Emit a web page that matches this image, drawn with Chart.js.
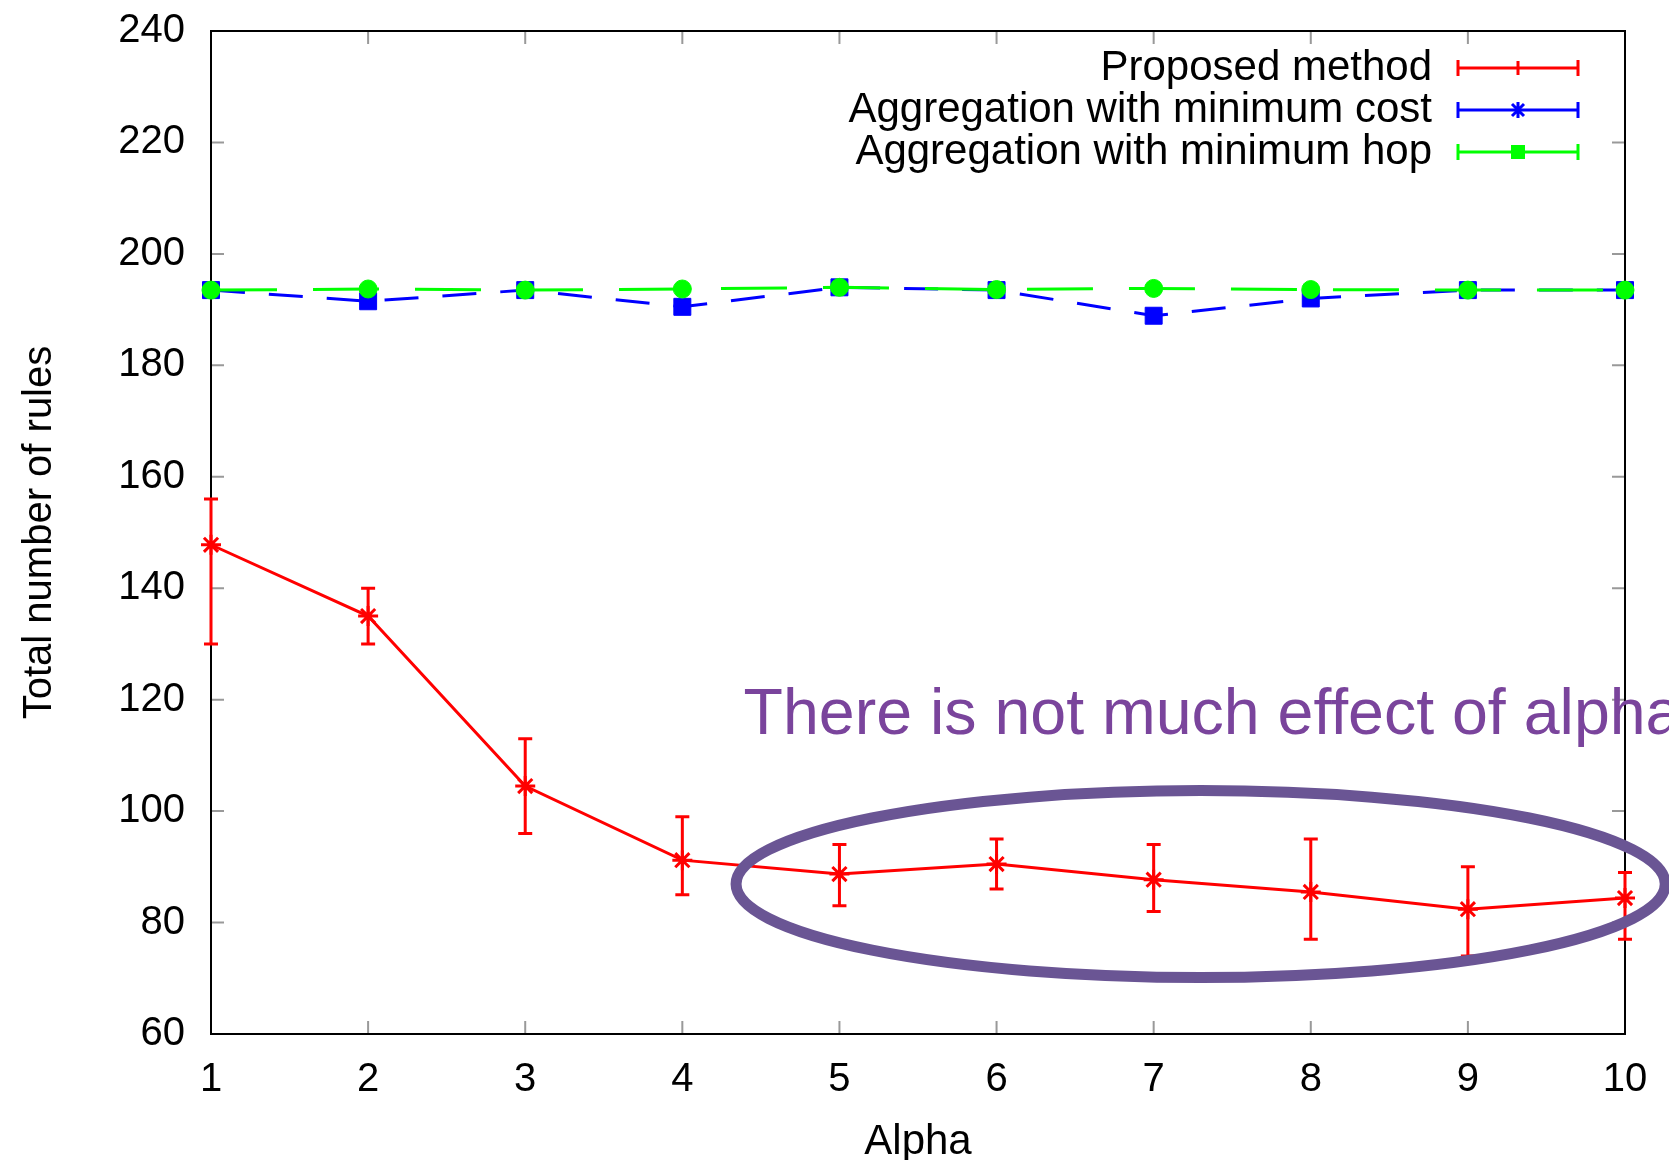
<!DOCTYPE html>
<html>
<head>
<meta charset="utf-8">
<script src="https://cdn.jsdelivr.net/npm/chart.js@4.4.0/dist/chart.umd.min.js"></script>
<style>
  html, body { margin: 0; padding: 0; background: #fff; }
</style>
</head>
<body>
<canvas id="chart" width="1669" height="1160"></canvas>
<script>
// values
const alpha = [1, 2, 3, 4, 5, 6, 7, 8, 9, 10];
const proposed = [147.8, 135, 104.5, 91.2, 88.7, 90.5, 87.7, 85.5, 82.4, 84.4];
const proposedLow = [130, 130, 96, 85, 83, 86, 82, 77, 74, 77];
const proposedHigh = [156, 140, 113, 99, 94, 95, 94, 95, 90, 89];
const minCost = [193.5, 191.5, 193.5, 190.5, 194, 193.5, 188.9, 192, 193.5, 193.5];
const minHop = [193.5, 193.7, 193.5, 193.7, 194, 193.6, 193.8, 193.6, 193.5, 193.5];
const yTicks = [60, 80, 100, 120, 140, 160, 180, 200, 220, 240];
const seriesNames = ["Proposed method", "Aggregation with minimum cost", "Aggregation with minimum hop"];
const note = "There is not much effect of alpha";

const FONT = "'Liberation Sans', Arial, sans-serif";
const toPoints = (vals) => alpha.map((a, i) => ({ x: a, y: vals[i] }));

// frame, inward ticks and error bars (drawn under the lines)
const framePlugin = {
  id: "frame",
  beforeDatasetsDraw(chart) {
    const { ctx, chartArea: a, scales } = chart;
    const x = scales.x, y = scales.y;
    ctx.save();
    ctx.strokeStyle = "#999";
    ctx.lineWidth = 2;
    const tl = 13;
    alpha.forEach((v) => {
      const px = x.getPixelForValue(v);
      ctx.beginPath();
      ctx.moveTo(px, a.bottom); ctx.lineTo(px, a.bottom - tl);
      ctx.moveTo(px, a.top); ctx.lineTo(px, a.top + tl);
      ctx.stroke();
    });
    yTicks.forEach((v) => {
      const py = y.getPixelForValue(v);
      ctx.beginPath();
      ctx.moveTo(a.left, py); ctx.lineTo(a.left + tl, py);
      ctx.moveTo(a.right, py); ctx.lineTo(a.right - tl, py);
      ctx.stroke();
    });
    ctx.strokeStyle = "#000";
    ctx.lineWidth = 2;
    ctx.strokeRect(a.left, a.top, a.right - a.left, a.bottom - a.top);

    // error bars of the proposed method
    ctx.strokeStyle = "#ff0000";
    ctx.lineWidth = 3;
    alpha.forEach((v, i) => {
      const px = x.getPixelForValue(v);
      const lo = y.getPixelForValue(proposedLow[i]);
      const hi = y.getPixelForValue(proposedHigh[i]);
      ctx.beginPath();
      ctx.moveTo(px, lo); ctx.lineTo(px, hi);
      ctx.moveTo(px - 7, lo); ctx.lineTo(px + 7, lo);
      ctx.moveTo(px - 7, hi); ctx.lineTo(px + 7, hi);
      ctx.stroke();
    });
    ctx.restore();
  },
};

// gnuplot style key in the top right corner
const keyPlugin = {
  id: "key",
  afterDraw(chart) {
    const { ctx } = chart;
    const colors = ["#ff0000", "#0000ff", "#00ff00"];
    const rows = [68, 110, 152];
    ctx.save();
    ctx.font = "42px " + FONT;
    ctx.textAlign = "right";
    ctx.textBaseline = "middle";
    seriesNames.forEach((name, i) => {
      const yy = rows[i];
      ctx.fillStyle = "#000";
      ctx.fillText(name, 1432, yy);
      ctx.strokeStyle = colors[i];
      ctx.fillStyle = colors[i];
      ctx.lineWidth = 3;
      ctx.beginPath();
      ctx.moveTo(1458, yy); ctx.lineTo(1578, yy);
      ctx.moveTo(1458, yy - 8); ctx.lineTo(1458, yy + 8);
      ctx.moveTo(1578, yy - 8); ctx.lineTo(1578, yy + 8);
      ctx.stroke();
      const mx = 1518;
      if (i === 0) {
        ctx.beginPath();
        ctx.moveTo(mx, yy - 7); ctx.lineTo(mx, yy + 7);
        ctx.stroke();
      } else if (i === 1) {
        ctx.beginPath();
        ctx.moveTo(mx, yy - 8); ctx.lineTo(mx, yy + 8);
        ctx.moveTo(mx - 6, yy - 6); ctx.lineTo(mx + 6, yy + 6);
        ctx.moveTo(mx - 6, yy + 6); ctx.lineTo(mx + 6, yy - 6);
        ctx.stroke();
      } else {
        ctx.fillRect(mx - 7, yy - 7, 14, 14);
      }
    });
    ctx.restore();
  },
};

// purple remark and ellipse laid on top of the plot
const noteAnchor = { x: 4.39, y: 113.8, width: 902 };
const ring = { x: 7.299, y: 86.9, rx: 2.957, ry: 16.78 };
const notePlugin = {
  id: "note",
  afterDraw(chart) {
    const { ctx, scales } = chart;
    const x = scales.x, y = scales.y;
    ctx.save();
    ctx.font = "64px " + FONT;
    ctx.textBaseline = "alphabetic";
    ctx.textAlign = "left";
    ctx.fillStyle = "#7a449c";
    const tx = x.getPixelForValue(noteAnchor.x);
    const ty = y.getPixelForValue(noteAnchor.y);
    const k = noteAnchor.width / ctx.measureText(note.slice(0, -1)).width;
    ctx.translate(tx, ty);
    ctx.scale(k, 1);
    ctx.fillText(note, 0, 0);
    ctx.restore();

    ctx.save();
    const cx = x.getPixelForValue(ring.x);
    const cy = y.getPixelForValue(ring.y);
    const rx = x.getPixelForValue(ring.x + ring.rx) - cx;
    const ry = cy - y.getPixelForValue(ring.y + ring.ry);
    ctx.strokeStyle = "#6a5594";
    ctx.lineWidth = 11;
    ctx.beginPath();
    ctx.ellipse(cx, cy, rx, ry, 0, 0, Math.PI * 2);
    ctx.stroke();
    ctx.restore();
  },
};

new Chart(document.getElementById("chart"), {
  type: "line",
  data: {
    datasets: [
      {
        label: seriesNames[0],
        data: toPoints(proposed),
        borderColor: "#ff0000",
        backgroundColor: "#ff0000",
        borderWidth: 3,
        pointStyle: "star",
        pointRadius: 10,
        pointBorderWidth: 3,
        order: 1,
        clip: false,
      },
      {
        label: seriesNames[1],
        data: toPoints(minCost),
        borderColor: "#0000ff",
        backgroundColor: "#0000ff",
        borderWidth: 3,
        borderDash: [34, 24],
        pointStyle: "rect",
        pointRadius: 12,
        pointBorderWidth: 1,
        order: 2,
        clip: false,
      },
      {
        label: seriesNames[2],
        data: toPoints(minHop),
        borderColor: "#00ff00",
        backgroundColor: "#00ff00",
        borderWidth: 3,
        borderDash: [66, 36],
        pointStyle: "circle",
        pointRadius: 9,
        pointBorderWidth: 1,
        order: 0,
        clip: false,
      },
    ],
  },
  options: {
    responsive: false,
    animation: false,
    devicePixelRatio: 1,
    layout: { padding: { top: 31, right: 44, left: 0, bottom: 0 } },
    scales: {
      x: {
        type: "linear",
        min: 1,
        max: 10,
        afterBuildTicks: (s) => { s.ticks = alpha.map((v) => ({ value: v })); },
        afterFit: (s) => { s.height = 126; s.paddingLeft = 0; s.paddingRight = 0; },
        grid: { display: false },
        border: { display: false },
        ticks: { color: "#000", padding: 14, font: { family: FONT, size: 40 } },
        title: {
          display: true,
          text: "Alpha",
          color: "#000",
          padding: { top: 0, bottom: -8 },
          font: { family: FONT, size: 42 },
        },
      },
      y: {
        min: 60,
        max: 240,
        afterBuildTicks: (s) => { s.ticks = yTicks.map((v) => ({ value: v })); },
        afterFit: (s) => { s.width = 211; s.paddingTop = 0; s.paddingBottom = 0; },
        grid: { display: false },
        border: { display: false },
        ticks: { color: "#000", padding: 18, font: { family: FONT, size: 40 } },
        title: {
          display: true,
          text: "Total number of rules",
          color: "#000",
          padding: { top: 16, bottom: 0 },
          font: { family: FONT, size: 40 },
        },
      },
    },
    plugins: {
      legend: { display: false },
      tooltip: { enabled: false },
    },
  },
  plugins: [framePlugin, keyPlugin, notePlugin],
});
</script>
</body>
</html>
